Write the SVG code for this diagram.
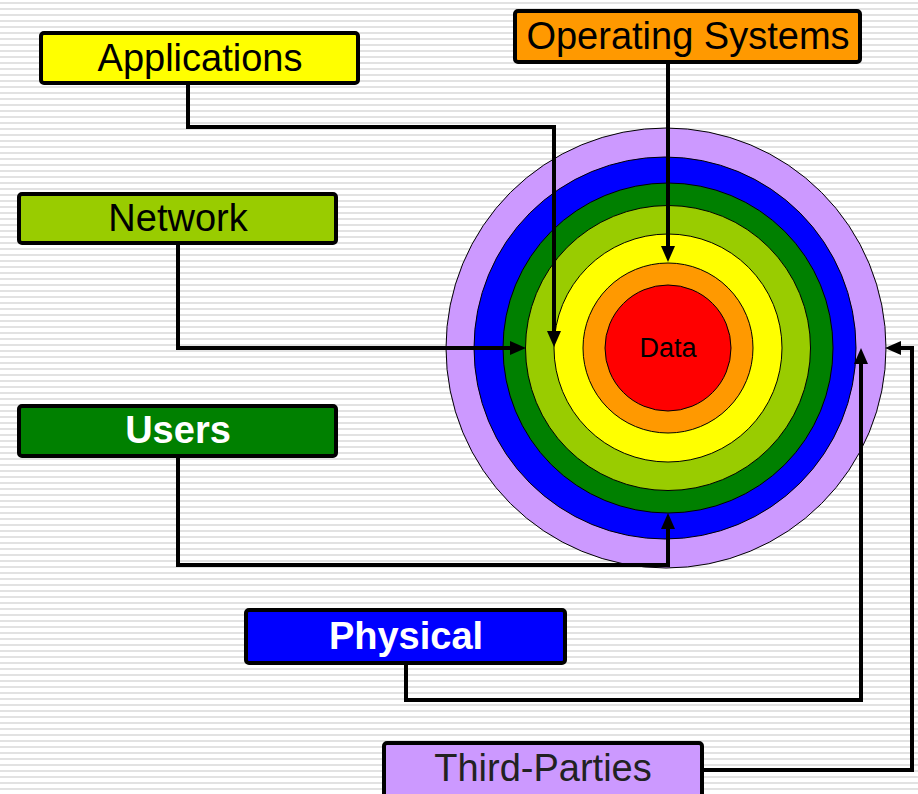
<svg xmlns="http://www.w3.org/2000/svg" width="918" height="794" viewBox="0 0 918 794">
<style>
.box{stroke:#000;stroke-width:4}
.lbl{font-family:"Liberation Sans",Arial,sans-serif;font-size:38px;text-anchor:middle}
.b{font-weight:bold;fill:#fff}
.ring{stroke:#000;stroke-width:1}
.con{fill:none;stroke:#000;stroke-width:4;marker-end:url(#ah)}
</style>
<defs>
<pattern id="stripes" width="8" height="6" patternUnits="userSpaceOnUse">
<rect width="8" height="6" fill="#fff"/>
<rect y="2" width="8" height="2" fill="#e2e2e2"/>
</pattern>
<marker id="ah" markerUnits="userSpaceOnUse" markerWidth="17" markerHeight="15" refX="5" refY="7.5" orient="auto" viewBox="0 0 17 15">
<path d="M0,0.5 L16,7.5 L0,14.5 z" fill="#000"/>
</marker>
</defs>
<rect width="918" height="794" fill="url(#stripes)"/>
<g id="rings">
<circle class="ring" cx="666" cy="348" r="220" fill="#cc99ff"/>
<circle class="ring" cx="665" cy="348" r="191" fill="#0000ff"/>
<circle class="ring" cx="668" cy="348" r="165" fill="#008000"/>
<circle class="ring" cx="668" cy="348" r="142.5" fill="#99cc00"/>
<circle class="ring" cx="668" cy="348" r="114" fill="#ffff00"/>
<circle class="ring" cx="668" cy="348" r="85" fill="#ff9900"/>
<circle class="ring" cx="668" cy="348" r="63" fill="#ff0000"/>
<text x="668" y="357" style="font-family:'Liberation Sans',Arial,sans-serif;font-size:27px;text-anchor:middle">Data</text>
</g>
<g id="connectors">
<path class="con" d="M188,85 V127 H554 V336"/>
<path class="con" d="M668,64 V251"/>
<path class="con" d="M178,245 V348 H515"/>
<path class="con" d="M178,458 V565 H668 V524"/>
<path class="con" d="M406,663 V700 H861 V359"/>
<path class="con" d="M704,770 H912 V348 H896"/>
</g>
<g id="applications">
<rect class="box" x="41" y="33" width="317" height="50" rx="3" fill="#ffff00"/>
<text class="lbl" x="200" y="71">Applications</text>
</g>
<g id="operating-systems">
<rect class="box" x="515" y="11" width="345" height="51" rx="3" fill="#ff9900"/>
<text class="lbl" x="688" y="49">Operating Systems</text>
</g>
<g id="network">
<rect class="box" x="19" y="194" width="317" height="49" rx="3" fill="#99cc00"/>
<text class="lbl" x="178" y="231">Network</text>
</g>
<g id="users">
<rect class="box" x="19" y="406" width="317" height="50" rx="3" fill="#008000"/>
<text class="lbl b" x="178" y="443">Users</text>
</g>
<g id="physical">
<rect class="box" x="246" y="610" width="319" height="53" rx="3" fill="#0000ff"/>
<text class="lbl b" x="406" y="649">Physical</text>
</g>
<g id="third-parties">
<rect class="box" x="384" y="743" width="318" height="60" rx="3" fill="#cc99ff"/>
<text class="lbl" x="543" y="781" fill="#222">Third-Parties</text>
</g>
</svg>
